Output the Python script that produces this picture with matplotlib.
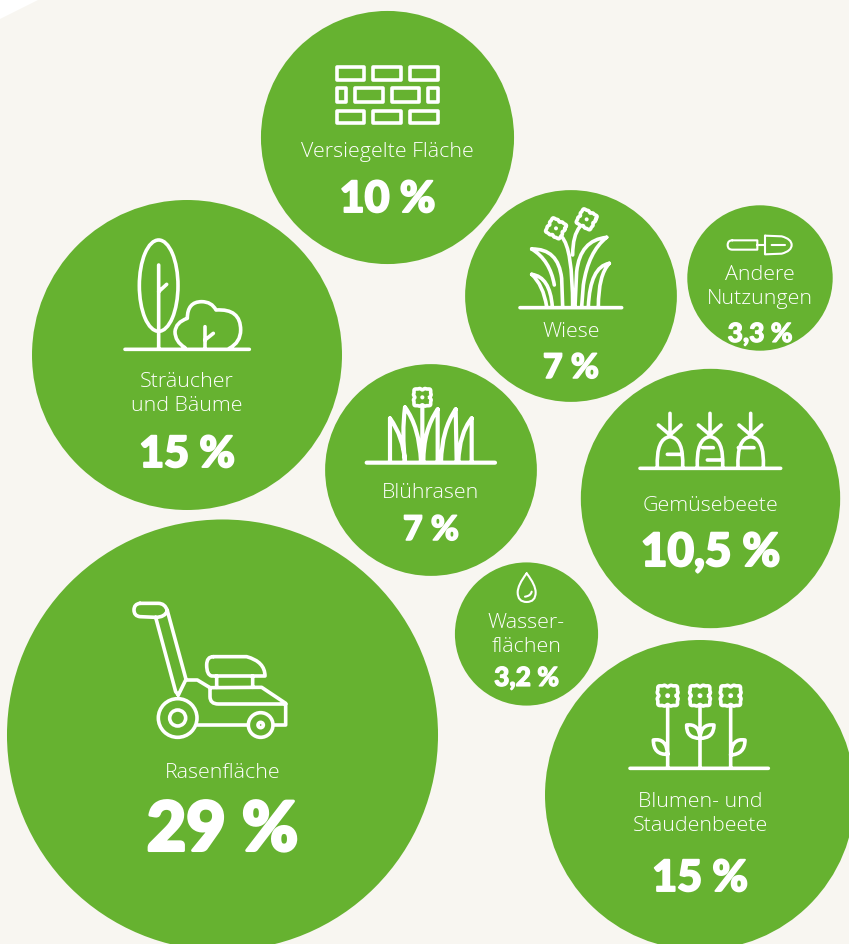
import numpy as np
import matplotlib
matplotlib.use("Agg")
import matplotlib.pyplot as plt
import matplotlib.patheffects as pe
from matplotlib.path import Path
from matplotlib.patches import Circle, PathPatch, Polygon, Rectangle, Ellipse

# values of the chart
categories = ["Versiegelte Fläche", "Sträucher\nund Bäume", "Wiese", "Andere\nNutzungen", "Blührasen",
              "Gemüsebeete", "Wasser-\nflächen", "Rasenfläche", "Blumen- und\nStaudenbeete"]
values = [10, 15, 7, 3.3, 7, 10.5, 3.2, 29, 15]

# layout, in pixels of the picture
centers_x = [387.5, 187, 571, 760, 431, 710.5, 526.5, 222.5, 700]
centers_y = [137.5, 355, 296, 278, 470, 498.5, 634, 735, 795]
label_y = [151, 393, 331, 286, 492, 505, 634, 772, 813]
value_y = [197, 452, 366, 332, 528, 551, 676, 829, 876]
value_size = [31, 31, 24.5, 19, 24.5, 33, 19, 49, 31]
radius_scale = 40.02  # radius = scale * sqrt(value), area follows the value

green = "#66b230"
back = "#f8f6f1"
stroke = 2.6

fig = plt.figure(figsize=(8.49, 9.45), dpi=100, facecolor="white")
ax = fig.add_axes([0, 0, 1, 1])
ax.set_xlim(0, 849)
ax.set_ylim(944, -1)
ax.axis("off")

ax.add_patch(Polygon([(0, 19), (40, -1), (849, -1), (849, 945), (0, 945)], fc=back, ec="none", zorder=0))

for x, y, v in zip(centers_x, centers_y, values):
    ax.add_patch(Circle((x, y), radius_scale * np.sqrt(v), fc=green, ec="none", zorder=1))


# icon paths: "M" move, "L" line, "Q" quadratic curve, coords as read in the 3x zoom crops
def icon(ox, oy, segs, lw=stroke):
    verts, codes = [], []
    for s in segs:
        if s[0] == "M":
            verts.append(s[1]); codes.append(Path.MOVETO)
        elif s[0] == "L":
            verts.append(s[1]); codes.append(Path.LINETO)
        else:
            verts += [s[1], s[2]]; codes += [Path.CURVE3, Path.CURVE3]
    verts = [(ox + a / 3, oy + b / 3) for a, b in verts]
    ax.add_patch(PathPatch(Path(verts, codes), fc="none", ec="white", lw=lw, capstyle="round",
                           joinstyle="round", zorder=3))


def ring(ox, oy, cx, cy, r, lw=stroke):
    ax.add_patch(Circle((ox + cx / 3, oy + cy / 3), r / 3, fc="none", ec="white", lw=lw, zorder=3))


def flower(ox, oy, cx, cy, r, turn=0.0, lw=stroke):
    t = np.linspace(0, 2 * np.pi, 161)
    rr = r / 3 * (1 - 0.2 * np.cos(4 * (t - turn)) ** 3)
    ax.plot(ox + cx / 3 + rr * np.cos(t), oy + cy / 3 + rr * np.sin(t), color="white", lw=lw, zorder=3)
    ax.add_patch(Circle((ox + cx / 3, oy + cy / 3), r / 3 * 0.22, fc="white", ec="none", zorder=3))


# wall
ox, oy = 320, 50
rows = [(50, 90, [(50, 133), (160, 243), (270, 353)]),
        (115, 155, [(50, 77), (105, 188), (215, 298), (325, 353)]),
        (182, 220, [(50, 133), (160, 243), (270, 353)])]
for top, bottom, bricks in rows:
    for a, b in bricks:
        ax.add_patch(Rectangle((ox + a / 3, oy + top / 3), (b - a) / 3, (bottom - top) / 3, fc="none", ec="white",
                               lw=stroke, joinstyle="round", zorder=3))

# tree and bush
ox, oy = 110, 225
ax.add_patch(Ellipse((ox + 146 / 3, oy + 182 / 3), 116 / 3, 274 / 3, fc="none", ec="white", lw=stroke, zorder=3))
icon(ox, oy, [("M", (146, 120)), ("L", (146, 370)), ("M", (146, 200)), ("L", (170, 178)),
              ("M", (45, 373)), ("L", (418, 373)),
              ("M", (225, 368)), ("Q", (195, 350), (195, 320)), ("Q", (197, 292), (232, 280)),
              ("Q", (232, 230), (275, 230)), ("Q", (305, 230), (318, 255)), ("Q", (392, 250), (392, 315)),
              ("Q", (392, 352), (358, 370)),
              ("M", (285, 305)), ("L", (285, 370)), ("M", (285, 345)), ("L", (310, 325))])

# meadow
ox, oy = 520, 205
flower(ox, oy, 108, 70, 27, 0.5)
flower(ox, oy, 200, 43, 27, 0.5)
icon(ox, oy, [("M", (0, 308)), ("L", (305, 308)),
              ("M", (125, 95)), ("Q", (158, 130), (158, 305)),
              ("M", (180, 65)), ("Q", (158, 90), (158, 150)),
              ("M", (35, 132)), ("Q", (115, 130), (125, 220)), ("L", (128, 305)),
              ("M", (35, 132)), ("Q", (90, 165), (103, 240)),
              ("M", (35, 208)), ("Q", (90, 215), (97, 305)),
              ("M", (35, 208)), ("Q", (70, 240), (80, 305)),
              ("M", (260, 97)), ("Q", (180, 105), (170, 200)), ("L", (165, 305)),
              ("M", (260, 97)), ("Q", (205, 140), (190, 240)), ("L", (185, 305)),
              ("M", (268, 175)), ("Q", (210, 185), (205, 305)),
              ("M", (268, 175)), ("Q", (235, 210), (235, 305))])

# flowering lawn
ox, oy = 360, 380
flower(ox, oy, 187, 52, 28)
icon(ox, oy, [("M", (20, 248)), ("L", (405, 248)), ("M", (187, 78)), ("L", (187, 245)),
              ("M", (90, 115)), ("L", (90, 245)), ("M", (90, 115)), ("Q", (130, 170), (135, 245)),
              ("M", (135, 82)), ("Q", (125, 160), (135, 245)), ("M", (135, 82)), ("Q", (178, 140), (183, 245)),
              ("M", (233, 88)), ("Q", (190, 150), (190, 245)), ("M", (233, 88)), ("L", (233, 245)),
              ("M", (287, 88)), ("Q", (245, 150), (243, 245)), ("M", (287, 88)), ("L", (290, 245)),
              ("M", (335, 115)), ("Q", (298, 160), (295, 245)), ("M", (335, 115)), ("L", (335, 245))],
     lw=3.0)

# carrots
ox, oy = 630, 405
segs = [("M", (30, 190)), ("L", (452, 190))]
for c in [120, 240, 362]:
    segs += [("M", (c - 38, 187)), ("Q", (c - 42, 100), (c, 95)), ("Q", (c + 42, 100), (c + 38, 187)),
             ("M", (c, 25)), ("L", (c, 92)), ("M", (c - 35, 60)), ("L", (c, 90)), ("M", (c + 33, 60)), ("L", (c, 90))]
segs += [("M", (112, 148)), ("L", (155, 148)), ("M", (218, 128)), ("L", (250, 128)),
         ("M", (232, 165)), ("L", (275, 165)), ("M", (325, 128)), ("L", (372, 128))]
icon(ox, oy, segs)

# garden flowers
ox, oy = 620, 675
for c in [143, 240, 332]:
    flower(ox, oy, c, 62, 33)
icon(ox, oy, [("M", (30, 280)), ("L", (445, 280)),
              ("M", (143, 92)), ("L", (143, 278)), ("M", (240, 92)), ("L", (240, 278)), ("M", (332, 92)), ("L", (332, 278)),
              ("M", (143, 238)), ("Q", (100, 240), (100, 195)), ("Q", (140, 188), (143, 238)),
              ("M", (240, 190)), ("Q", (198, 190), (200, 150)), ("Q", (238, 145), (240, 190)),
              ("M", (240, 190)), ("Q", (282, 190), (282, 150)), ("Q", (242, 145), (240, 190)),
              ("M", (332, 240)), ("Q", (375, 238), (375, 195)), ("Q", (335, 188), (332, 240))])

# trowel
ox, oy = 700, 225
icon(ox, oy, [("M", (97, 46)), ("L", (172, 46)), ("L", (172, 74)), ("L", (97, 74)),
              ("Q", (83, 74), (83, 60)), ("Q", (83, 46), (97, 46)),
              ("M", (172, 60)), ("L", (195, 60)),
              ("M", (195, 32)), ("L", (245, 34)), ("Q", (275, 42), (275, 60)), ("Q", (275, 78), (245, 86)),
              ("L", (195, 88)), ("L", (195, 32)),
              ("M", (215, 60)), ("L", (255, 60))], lw=1.5)

# drop
ox, oy = 470, 560
icon(ox, oy, [("M", (170, 40)), ("Q", (143, 75), (143, 97)), ("Q", (143, 126), (170, 126)),
              ("Q", (197, 126), (197, 97)), ("Q", (197, 75), (170, 40)),
              ("M", (165, 110)), ("Q", (182, 108), (185, 95))], lw=1.5)

# lawn mower
ox, oy = 110, 590
ring(ox, oy, 203, 384, 58)
ring(ox, oy, 203, 384, 24)
ring(ox, oy, 452, 405, 37)
ring(ox, oy, 452, 405, 8)
icon(ox, oy, [("M", (90, 40)), ("L", (145, 40)), ("Q", (165, 40), (172, 62)), ("L", (228, 268)), ("L", (205, 315)),
              ("M", (172, 62)), ("Q", (165, 82), (137, 82)), ("L", (90, 80)), ("Q", (72, 78), (72, 60)),
              ("Q", (72, 42), (90, 40)),
              ("M", (137, 82)), ("L", (197, 305)), ("L", (205, 315)),
              ("M", (228, 270)), ("L", (262, 270)), ("L", (300, 293)), ("L", (455, 292)), ("L", (527, 340)),
              ("L", (527, 405)), ("L", (490, 405)),
              ("M", (300, 293)), ("L", (300, 320)), ("Q", (300, 342), (325, 342)), ("L", (527, 342)),
              ("M", (310, 200)), ("L", (410, 200)), ("Q", (465, 215), (465, 258)), ("L", (305, 258)),
              ("Q", (290, 255), (290, 225)), ("Q", (290, 200), (310, 200)),
              ("M", (320, 258)), ("L", (320, 292)), ("M", (428, 258)), ("L", (428, 292)),
              ("M", (262, 405)), ("L", (415, 405))])

# texts
for x, ly, vy, name, v, size in zip(centers_x, label_y, value_y, categories, values, value_size):
    ax.text(x, ly, name, color="white", ha="center", va="center", family="Open Sans",
            weight=300, fontsize=15.4, linespacing=1.33, zorder=4)
    label = f"{v:g} %".replace(".", ",")
    ax.text(x, vy + 2, label, color="white", ha="center", va="center", family="Lato", weight=900,
            fontsize=size, zorder=4, path_effects=[pe.withStroke(linewidth=size * 0.045, foreground="white")])

fig.savefig("out.png", dpi=100, facecolor="white")
